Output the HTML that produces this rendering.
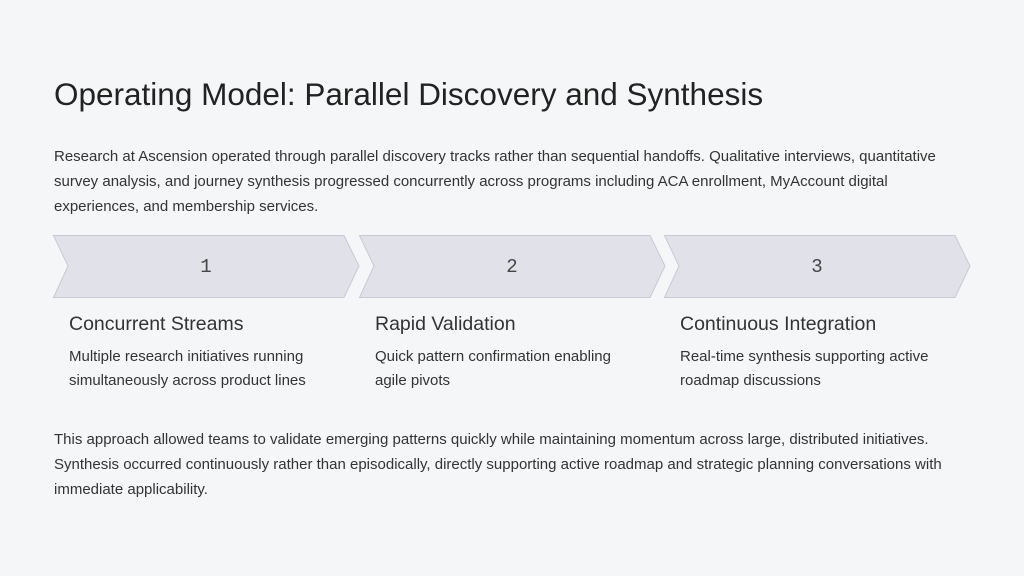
<!DOCTYPE html>
<html><head><style>
body{margin:0;width:1024px;height:576px;background:#f5f6f7;font-family:"Liberation Sans",sans-serif;position:relative;overflow:hidden;color:#333}
.t{position:absolute;left:54px;top:76px;font-size:31.5px;color:#222;font-weight:300}
.p{position:absolute;left:54px;font-size:15px;line-height:25px;color:#333;width:918px}
.h{position:absolute;top:313px;font-size:19.5px;color:#333}
.d{position:absolute;top:345px;font-size:15px;line-height:24px;color:#333;width:262px}
.n{position:absolute;top:256px;font-size:19px;color:#444;width:40px;text-align:center;font-family:"Liberation Mono",monospace}
</style></head><body>
<div class="t">Operating Model: Parallel Discovery and Synthesis</div>
<div class="p" style="top:144px">Research at Ascension operated through parallel discovery tracks rather than sequential handoffs. Qualitative interviews, quantitative survey analysis, and journey synthesis progressed concurrently across programs including ACA enrollment, MyAccount digital experiences, and membership services.</div>
<svg style="position:absolute;left:0;top:0" width="1024" height="576">
<g fill="#e1e1e9" stroke="#c9c9d3" stroke-width="1">
<polygon points="53.5,235.5 344,235.5 359,266 344,297.5 53.5,297.5 68,266"/>
<polygon points="359.5,235.5 650,235.5 665,266 650,297.5 359.5,297.5 374,266"/>
<polygon points="664.5,235.5 955,235.5 970,266 955,297.5 664.5,297.5 679,266"/>
</g></svg>
<div class="n" style="left:186px">1</div>
<div class="n" style="left:492px">2</div>
<div class="n" style="left:797px">3</div>
<div class="h" style="left:69px">Concurrent Streams</div>
<div class="h" style="left:375px">Rapid Validation</div>
<div class="h" style="left:680px">Continuous Integration</div>
<div class="d" style="left:69px">Multiple research initiatives running simultaneously across product lines</div>
<div class="d" style="left:375px">Quick pattern confirmation enabling agile pivots</div>
<div class="d" style="left:680px">Real-time synthesis supporting active roadmap discussions</div>
<div class="p" style="top:427px">This approach allowed teams to validate emerging patterns quickly while maintaining momentum across large, distributed initiatives. Synthesis occurred continuously rather than episodically, directly supporting active roadmap and strategic planning conversations with immediate applicability.</div>
</body></html>
